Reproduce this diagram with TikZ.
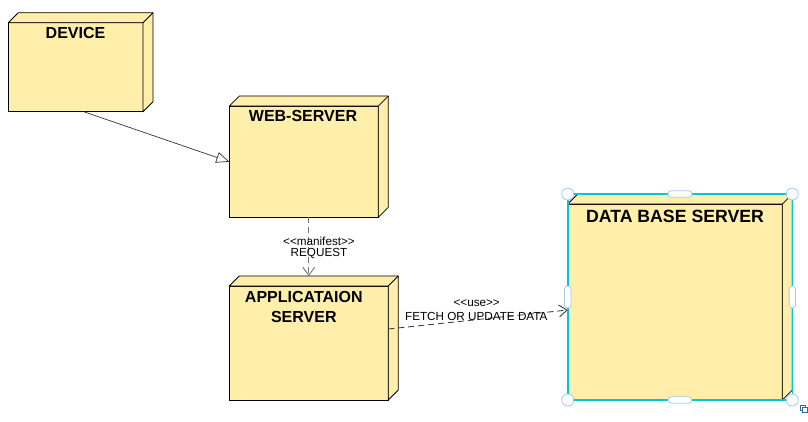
\documentclass[tikz,border=0pt]{standalone}
\usepackage{fontspec}
\newfontfamily\uifont{Liberation Sans}
\usetikzlibrary{arrows.meta}
\definecolor{nodefill}{RGB}{255,239,170}
\definecolor{selcyan}{RGB}{0,200,220}
\definecolor{handleblue}{RGB}{168,200,240}
\definecolor{iconblue}{RGB}{40,110,170}
\tikzset{
 face/.style={draw=black, fill=nodefill, line width=0.8pt, inner sep=0pt, outer sep=0pt},
 title/.style={font=\uifont\fontsize{16}{20}\selectfont\bfseries, inner sep=0pt, align=center},
 smalltext/.style={font=\uifont\fontsize{11.7}{13}\selectfont, inner sep=0pt},
 gen/.style={draw=black!80, line width=0.7pt, -{Triangle[open,length=13pt,width=11pt]}},
 dep/.style={draw=black!75, line width=0.9pt, dash pattern=on 6pt off 4pt, -{Straight Barb[length=8pt,width=12pt]}},
 handlecirc/.style={draw=handleblue, fill=white, line width=0.8pt},
}
\newcommand{\threedbox}[1]{%
 \filldraw[fill=nodefill, draw=black, line width=0.8pt, line join=round]
  (#1.north west) -- ++(10,-10) -- ([shift={(10,-10)}]#1.north east)
  -- ([shift={(10,-10)}]#1.south east) -- (#1.south east) -- (#1.north east) -- cycle;
 \draw[line width=0.8pt] (#1.north east) -- ++(10,-10);
}
\begin{document}
\begin{tikzpicture}[x=1pt,y=-1pt]
\useasboundingbox (0,0) rectangle (808,421);
% nodes
\node[face, minimum width=134.7pt, minimum height=89pt] (dev) at (75.7,67.2) {};
\threedbox{dev}
\node[title] (devt) at (75.5,33) {DEVICE};

\node[face, minimum width=149pt, minimum height=111.3pt] (web) at (303.8,161.7) {};
\threedbox{web}
\node[title] (webt) at (303,116) {WEB-SERVER};

\node[face, minimum width=159pt, minimum height=114pt] (app) at (308.8,343) {};
\threedbox{app}
\node[title] (appt) at (303.8,307) {APPLICATAION\\SERVER};

\node[face, minimum width=214.6pt, minimum height=196pt] (db) at (675,302) {};
\threedbox{db}
\node[title, font=\uifont\fontsize{17.7}{20}\selectfont\bfseries] (dbt) at (675,216) {DATA BASE SERVER};

% connectors
\draw[gen] ([xshift=8pt]dev.south) -- (web.west);
\draw[dep, draw=black!55] (web.south -| app.north) -- ([yshift=10pt]app.north);
\node[smalltext] (mani) at (319,241.7) {<<manifest>>};
\node[smalltext] (req) at (319,254) {REQUEST};
\draw[dep] ([yshift=14pt]app.east) -- ([yshift=-8pt]db.west);
\node[smalltext] (use) at (476.7,302.7) {<<use>>};
\node[smalltext] (fetch) at (476.3,316) {FETCH OR UPDATE DATA};

% selection frame
\draw[selcyan, line width=1.6pt] (567.7,194) rectangle (792.3,400);
\foreach \px/\py in {567.7/194, 792.3/194, 567.7/400, 792.3/400}
  \draw[handlecirc] (\px,\py) circle (6pt);
\foreach \px/\py in {680/194, 680/400}
  \draw[handlecirc, rounded corners=3pt] (\px-12,\py-3.2) rectangle (\px+12,\py+3.2);
\foreach \px/\py in {567.7/297, 792.3/297}
  \draw[handlecirc, rounded corners=3pt] (\px-3.2,\py-11) rectangle (\px+3.2,\py+11);
% small icon
\draw[iconblue, line width=0.6pt] (800,405) rectangle (805,410);
\draw[iconblue, line width=0.6pt, fill=white] (802.5,407.5) rectangle (807.5,412.5);
\end{tikzpicture}
\end{document}
